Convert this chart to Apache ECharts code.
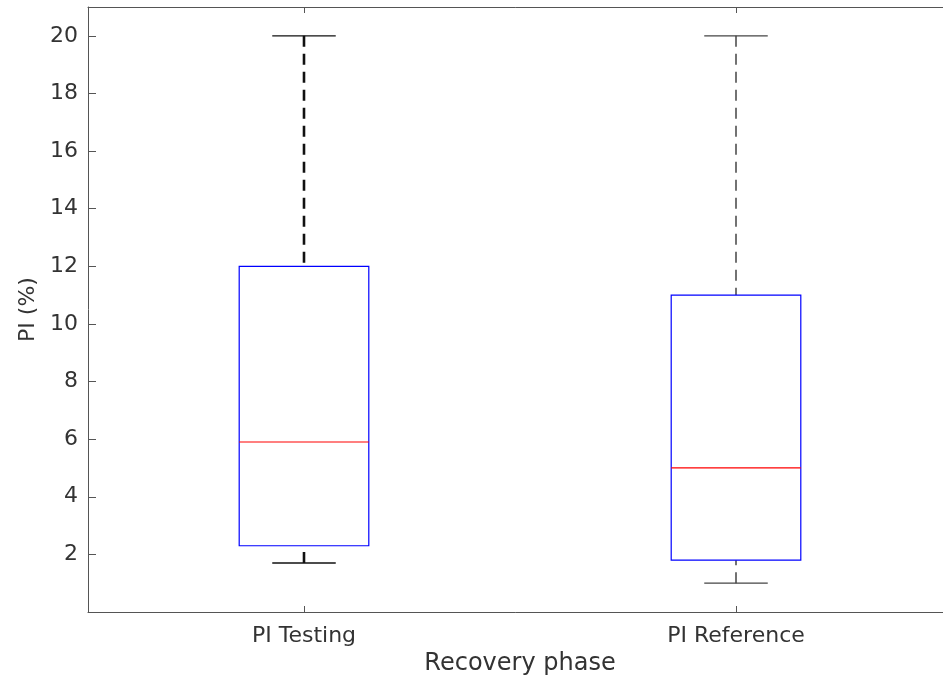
<!DOCTYPE html>
<html>
<head>
<meta charset="utf-8">
<script src="https://cdn.jsdelivr.net/npm/echarts@6/dist/echarts.min.js"></script>
<style>html,body{margin:0;padding:0;background:#fff;}#chart{width:943px;height:680px;}</style>
</head>
<body>
<div id="chart"></div>
<script>
const categories = ['PI Testing', 'PI Reference'];
const lowWhisker = [1.7, 1.0];
const q1 = [2.3, 1.8];
const median = [5.9, 5.0];
const q3 = [12, 11];
const highWhisker = [20, 20];
const yTickLabels = [2, 4, 6, 8, 10, 12, 14, 16, 18, 20];

const whiskerStyles = [
  { stroke: '#111', lineWidth: 2.6, lineDash: [11, 7] },
  { stroke: '#444', lineWidth: 1.5, lineDash: [11, 7] }
];

const data = categories.map((c, i) => [i, lowWhisker[i], q1[i], median[i], q3[i], highWhisker[i]]);

const chart = echarts.init(document.getElementById('chart'));
const font = 'DejaVu Sans';
const axisColor = '#555';

function renderItem(params, api) {
  const idx = api.value(0);
  const band = api.size([1, 0])[0];
  const boxW = band * 0.3;
  const capW = band * 0.147;
  const pLow = api.coord([idx, api.value(1)]);
  const pQ1 = api.coord([idx, api.value(2)]);
  const pMed = api.coord([idx, api.value(3)]);
  const pQ3 = api.coord([idx, api.value(4)]);
  const pHigh = api.coord([idx, api.value(5)]);
  const x = pLow[0];
  const ws = whiskerStyles[idx];
  const capStyle = { stroke: ws.stroke, lineWidth: 1.3 };
  return {
    type: 'group',
    children: [
      { type: 'line', shape: { x1: x, y1: pHigh[1], x2: x, y2: pQ3[1] }, style: { stroke: ws.stroke, lineWidth: ws.lineWidth, lineDash: ws.lineDash } },
      { type: 'line', shape: { x1: x, y1: pLow[1], x2: x, y2: pQ1[1] }, style: { stroke: ws.stroke, lineWidth: ws.lineWidth, lineDash: ws.lineDash } },
      { type: 'line', shape: { x1: x - capW / 2, y1: pHigh[1], x2: x + capW / 2, y2: pHigh[1] }, style: capStyle },
      { type: 'line', shape: { x1: x - capW / 2, y1: pLow[1], x2: x + capW / 2, y2: pLow[1] }, style: capStyle },
      { type: 'rect', shape: { x: x - boxW / 2, y: pQ3[1], width: boxW, height: pQ1[1] - pQ3[1] }, style: { fill: 'rgba(0,0,0,0)', stroke: '#0000ff', lineWidth: 1.2 } },
      { type: 'line', shape: { x1: x - boxW / 2, y1: pMed[1], x2: x + boxW / 2, y2: pMed[1] }, style: { stroke: '#ff0000', lineWidth: 1.2 } }
    ]
  };
}

chart.setOption({
  animation: false,
  backgroundColor: '#fff',
  grid: { left: 88, top: 7, width: 864, bottom: 68, containLabel: false, outerBoundsMode: 'none' },
  xAxis: [
    {
      type: 'category',
      data: categories,
      boundaryGap: true,
      name: 'Recovery phase',
      nameLocation: 'middle',
      nameGap: 38,
      nameTextStyle: { fontFamily: font, fontSize: 24, color: '#333' },
      axisLine: { show: true, lineStyle: { color: axisColor, width: 1 } },
      axisTick: { show: true, inside: true, alignWithLabel: true, length: 6, lineStyle: { color: axisColor } },
      axisLabel: { fontFamily: font, fontSize: 22, color: '#333', margin: 13 },
      splitLine: { show: false }
    },
    {
      type: 'category',
      data: categories,
      position: 'top',
      boundaryGap: true,
      axisLine: { show: true, lineStyle: { color: axisColor, width: 1 } },
      axisTick: { show: true, inside: true, alignWithLabel: true, length: 6, lineStyle: { color: axisColor } },
      axisLabel: { show: false },
      splitLine: { show: false }
    }
  ],
  yAxis: {
    type: 'value',
    min: 0,
    max: 21,
    interval: 2,
    name: 'PI (%)',
    nameLocation: 'middle',
    nameGap: 47,
    nameTextStyle: { fontFamily: font, fontSize: 22, color: '#333' },
    axisLine: { show: true, lineStyle: { color: axisColor, width: 1 } },
    axisTick: { show: true, inside: true, length: 8, lineStyle: { color: axisColor } },
    axisLabel: {
      fontFamily: font, fontSize: 22, color: '#333', margin: 10,
      formatter: v => (yTickLabels.indexOf(v) >= 0 ? String(v) : '')
    },
    splitLine: { show: false }
  },
  series: [{
    type: 'custom',
    xAxisIndex: 0,
    renderItem: renderItem,
    encode: { x: 0, y: [1, 2, 3, 4, 5] },
    data: data
  }]
});
</script>
</body>
</html>
